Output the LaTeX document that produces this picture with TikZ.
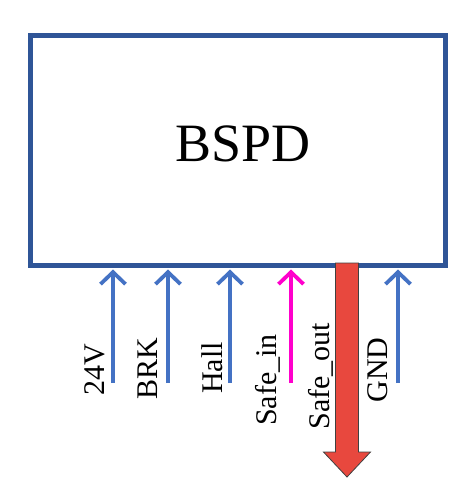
\documentclass[tikz,border=0pt]{standalone}
\usepackage{fontspec}
\setmainfont{Liberation Serif}
\definecolor{boxblue}{RGB}{47, 85, 151}
\definecolor{sigblue}{RGB}{68, 114, 196}
\definecolor{safemag}{RGB}{255, 0, 204}
\definecolor{outred}{RGB}{232, 72, 62}
\usetikzlibrary{arrows.meta, positioning, calc}

\begin{document}
\begin{tikzpicture}[x=1pt, y=-1pt,
  block/.style={draw=boxblue, line width=5pt, minimum width=415pt, minimum height=229pt, inner sep=0pt, font=\fontsize{54}{60}\selectfont},
  sig/.style={draw=sigblue, line width=3.8pt, -{Straight Barb[length=12pt, width=25pt, line width=3.8pt]}},
  pinlabel/.style={rotate=90, inner sep=0pt, font=\fontsize{30}{34}\selectfont},
  outarrow/.style={draw=black!75, fill=outred, line width=0.8pt, line join=miter}
]
  \useasboundingbox (0,0) rectangle (467,503);
  \node[block] (bspd) at (237.5, 150.5) {};
  \node (title) at (243, 144) {\fontsize{54}{60}\selectfont BSPD};

  % pin tails
  \coordinate (p24) at (113, 383);
  \coordinate (pbrk) at (168, 383);
  \coordinate (phall) at (230, 383);
  \coordinate (psafein) at (291, 383);
  \coordinate (pgnd) at (398, 383);
  \coordinate (psafeout) at (347, 263);

  \draw[sig] (p24) -- ($(p24 |- bspd.south)+(0,2)$);
  \draw[sig] (pbrk) -- ($(pbrk |- bspd.south)+(0,2)$);
  \draw[sig] (phall) -- ($(phall |- bspd.south)+(0,2)$);
  \draw[sig, draw=safemag] (psafein) -- ($(psafein |- bspd.south)+(0,2)$);
  \draw[sig] (pgnd) -- ($(pgnd |- bspd.south)+(0,2)$);

  \node[pinlabel] (l24) at (95, 370) {24V};
  \node[pinlabel] (lbrk) at (148, 369) {BRK};
  \node[pinlabel] (lhall) at (212, 368) {Hall};
  \node[pinlabel] (lsafein) at (268, 380) {Safe\_in};
  \node[pinlabel] (lsafeout) at (321, 376) {Safe\_out};
  \node[pinlabel] (lgnd) at (378, 370) {GND};

  % output
  \draw[outarrow] ($(psafeout)+(-11.5,0)$) -- ++(0,189) -- ++(-12,0) -- ($(psafeout)+(0,214)$)
    -- ($(psafeout)+(23.5,189)$) -- ++(-12,0) -- ($(psafeout)+(11.5,0)$) -- cycle;
\end{tikzpicture}
\end{document}
